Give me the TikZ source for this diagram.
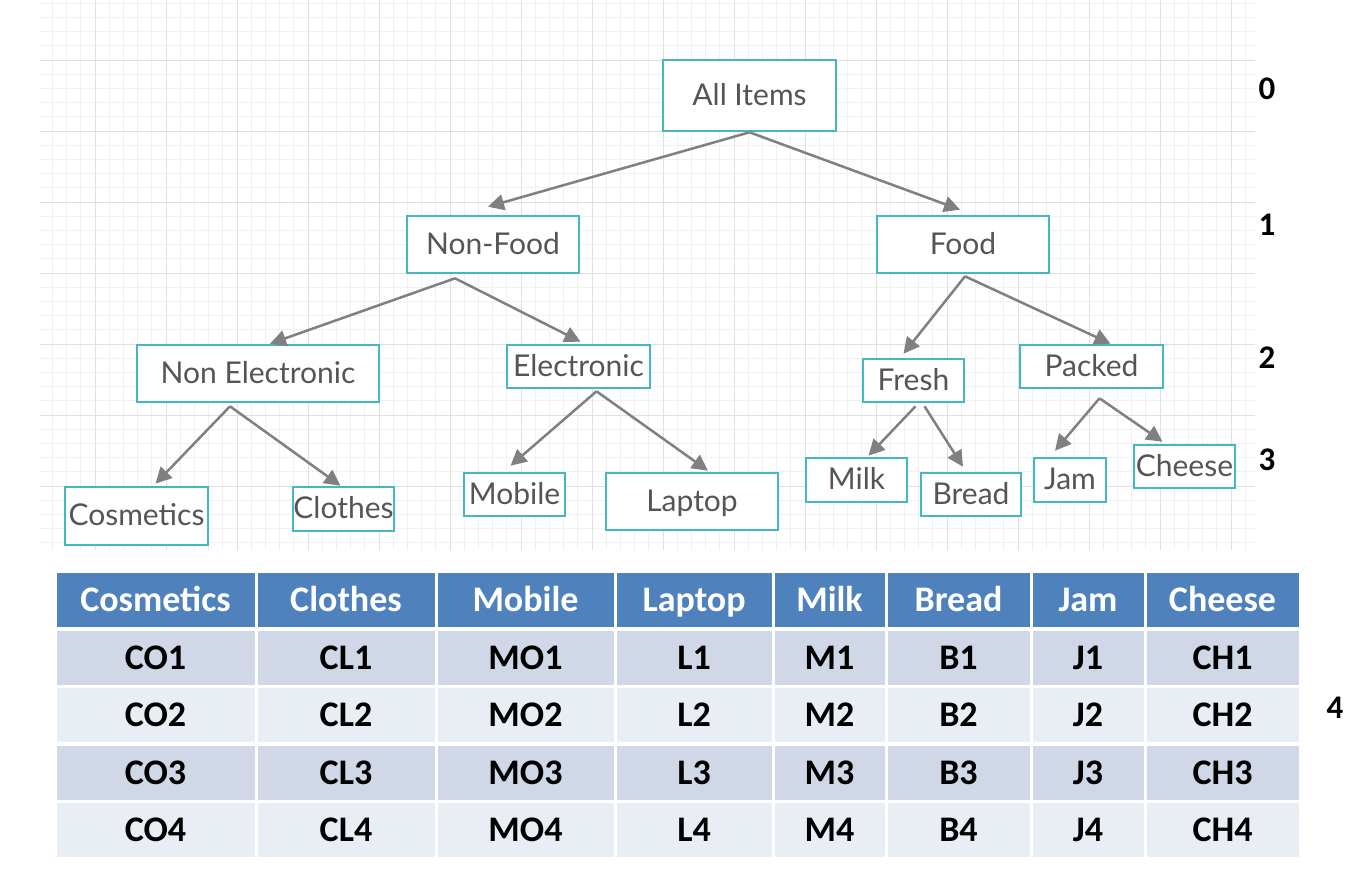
\documentclass[tikz,border=0pt]{standalone}
\usepackage{fontspec}
\setmainfont{Lato}
\newfontfamily\tabfont{Carlito}
\usetikzlibrary{arrows.meta}
\definecolor{boxteal}{RGB}{70,183,193}
\definecolor{boxtext}{RGB}{85,85,85}
\definecolor{linkgray}{RGB}{128,128,128}
\definecolor{headblue}{RGB}{79,129,189}
\definecolor{rowdark}{RGB}{208,216,232}
\definecolor{rowlight}{RGB}{233,237,244}

\tikzset{
  item/.style={draw=boxteal, line width=2.6pt, fill=white, text=boxtext, inner sep=0pt,
    text height=22pt, text depth=3pt, font=\fontsize{30}{34}\selectfont},
  link/.style={draw=linkgray, line width=2.5pt, -{Triangle[length=16pt,width=16pt]}},
  cell/.style={draw=white, line width=3pt, inner sep=0pt, minimum height=57pt,
    text height=25pt, text depth=2pt, font=\tabfont\bfseries\fontsize{36}{40}\selectfont},
  level/.style={font=\tabfont\bfseries\fontsize{33}{36}\selectfont},
  gridminor/.style={draw=black!6, line width=0.7pt},
  gridmajor/.style={draw=black!12, line width=1pt}
}

\begin{document}
\begin{tikzpicture}[x=1pt, y=-1pt]
\useasboundingbox (0,0) rectangle (1364,878);
\fill[white] (0,0) rectangle (1364,878);

% Background grid
\foreach \gx in {52.4,66.6,...,1250} \draw[gridminor] (\gx,0) -- (\gx,550);
\foreach \gy in {3.2,17.4,...,550} \draw[gridminor] (40,\gy) -- (1255,\gy);
\foreach \gx in {95,166,...,1250} \draw[gridmajor] (\gx,0) -- (\gx,550);
\foreach \gy in {60,131,...,550} \draw[gridmajor] (40,\gy) -- (1255,\gy);

% Hierarchy
\node[item, minimum width=173, minimum height=71] (all) at (749.5,95.5) {All Items};
\node[item, minimum width=172, minimum height=57] (nonfood) at (493,244.5) {Non-Food};
\node[item, minimum width=172, minimum height=57] (food) at (963,244.5) {Food};
\node[item, minimum width=242, minimum height=57] (nonelec) at (258,373.5) {Non Electronic};
\node[item, minimum width=143, minimum height=43] (elec) at (578.5,366.5) {Electronic};
\node[item, minimum width=101, minimum height=43] (fresh) at (913.5,380.5) {Fresh};
\node[item, minimum width=143, minimum height=43] (packed) at (1091.5,366.5) {Packed};
\node[item, minimum width=143, minimum height=58] (cosm) at (136.5,516) {Cosmetics};
\node[item, minimum width=101, minimum height=44] (cloth) at (343.5,509) {Clothes};
\node[item, minimum width=101, minimum height=43] (mobile) at (514.5,494.5) {Mobile};
\node[item, minimum width=172, minimum height=57] (laptop) at (692,501.5) {Laptop};
\node[item, minimum width=101, minimum height=44] (milk) at (856.5,480) {Milk};
\node[item, minimum width=100, minimum height=43] (bread) at (971,494.5) {Bread};
\node[item, minimum width=72, minimum height=44] (jam) at (1070,480) {Jam};
\node[item, minimum width=101, minimum height=43] (cheese) at (1184.5,466.5) {Cheese};

% Connectors
\draw[link] (all.south) -- ([xshift=-5pt,yshift=8pt]nonfood.north);
\draw[link] (all.south) -- ([xshift=-3pt,yshift=5pt]food.north);
\draw[link] ([xshift=-38pt,yshift=-4pt]nonfood.south) -- ([xshift=12pt]nonelec.north);
\draw[link] ([xshift=-38pt,yshift=-4pt]nonfood.south) -- ([xshift=2pt,yshift=2pt]elec.north);
\draw[link] ([xshift=2pt,yshift=-2pt]food.south) -- ([xshift=-10pt,yshift=4pt]fresh.north);
\draw[link] ([xshift=2pt,yshift=-2pt]food.south) -- ([xshift=19pt]packed.north);
\draw[link] ([xshift=-28pt,yshift=-3pt]nonelec.south) -- ([xshift=19pt,yshift=2pt]cosm.north);
\draw[link] ([xshift=-28pt,yshift=-3pt]nonelec.south) -- ([xshift=-3pt]cloth.north);
\draw[link] ([xshift=18pt,yshift=-2pt]elec.south) -- ([xshift=-4pt,yshift=6pt]mobile.north);
\draw[link] ([xshift=18pt,yshift=-2pt]elec.south) -- ([xshift=16pt,yshift=1pt]laptop.north);
\draw[link] ([xshift=2pt,yshift=-3pt]fresh.south) -- ([xshift=12pt,yshift=1pt]milk.north);
\draw[link] ([xshift=11pt,yshift=-3pt]fresh.south) -- ([xshift=-8pt,yshift=5pt]bread.north);
\draw[link] ([xshift=8pt,yshift=-9pt]packed.south) -- ([xshift=-15pt,yshift=6pt]jam.north);
\draw[link] ([xshift=8pt,yshift=-9pt]packed.south) -- ([xshift=-22pt,yshift=2pt]cheese.north);

% Level numbers
\node[level] (lv0) at (1267,89) {0};
\node[level] (lv1) at (1267,225) {1};
\node[level] (lv2) at (1267,358) {2};
\node[level] (lv3) at (1267,460) {3};
\node[level] (lv4) at (1335,708) {4};

% Table of leaf items
\foreach \l/\r/\name/\code [count=\c] in {55/256/Cosmetics/CO, 256/436/Clothes/CL,
    436/615/Mobile/MO, 615/773/Laptop/L, 773/886/Milk/M, 886/1031/Bread/B,
    1031/1145/Jam/J, 1145/1300/Cheese/CH} {
  \pgfmathsetmacro\cw{\r-\l}
  \pgfmathsetmacro\cx{(\l+\r)/2}
  \node[cell, fill=headblue, text=white, minimum width=\cw] (head\c) at (\cx,600) {\name};
  \foreach \k/\ry/\shade in {1/657.5/rowdark, 2/715/rowlight, 3/772.5/rowdark, 4/830/rowlight}
    \node[cell, fill=\shade, text=black, minimum width=\cw] (cell\c-\k) at (\cx,\ry) {\code\k};
}
\end{tikzpicture}
\end{document}
